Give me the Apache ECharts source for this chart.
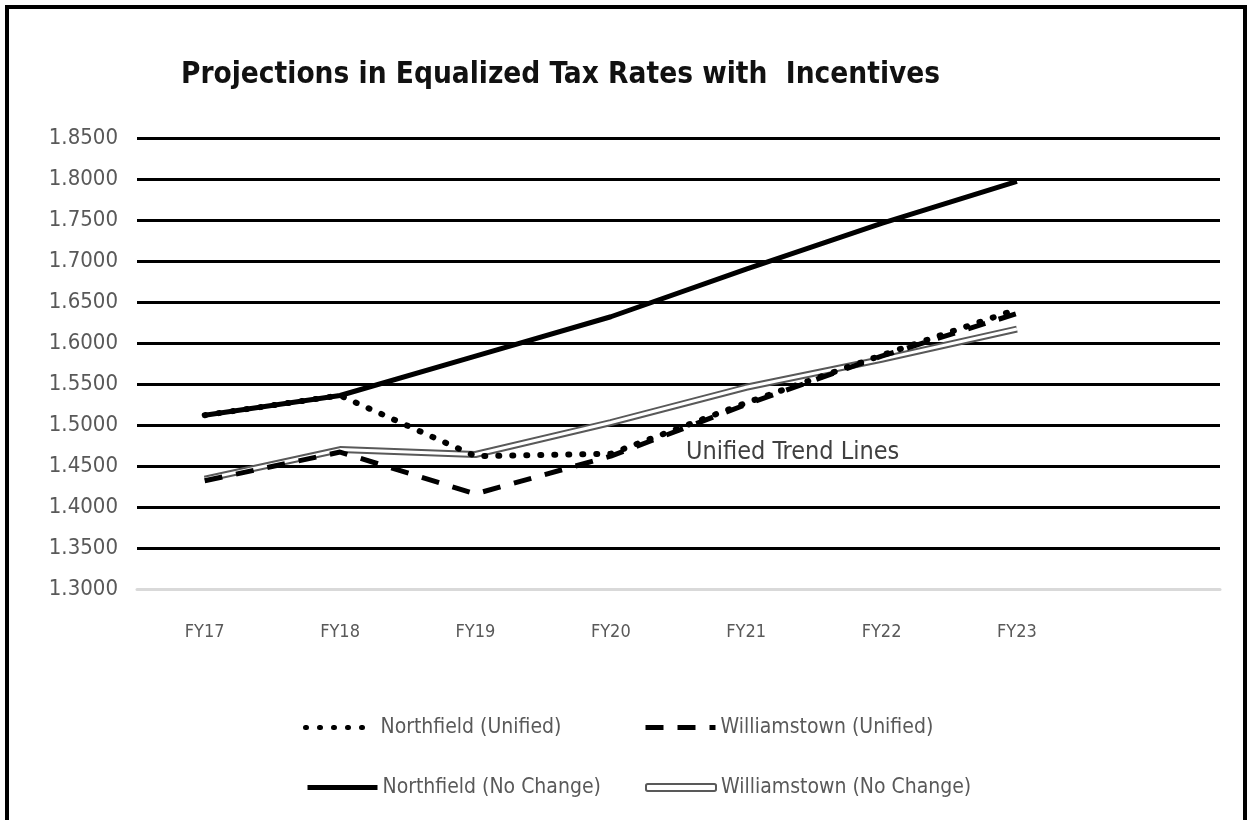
<!DOCTYPE html>
<html>
<head>
<meta charset="utf-8">
<script src="https://cdn.jsdelivr.net/npm/echarts@6/dist/echarts.min.js"></script>
<style>
  html, body { margin: 0; padding: 0; background: #fff; }
  #chart { width: 1251px; height: 820px; }
</style>
</head>
<body>
<div id="chart"></div>
<script>
// Fiscal years on the horizontal axis (last band left empty)
const categories = ['FY17', 'FY18', 'FY19', 'FY20', 'FY21', 'FY22', 'FY23', ''];

// Equalized tax rate projections
const northfieldUnified    = [1.512, 1.536, 1.462, 1.465, 1.527, 1.585, 1.641];
const williamstownUnified  = [1.432, 1.467, 1.416, 1.462, 1.525, 1.584, 1.636];
const northfieldNoChange   = [1.512, 1.536, 1.584, 1.632, 1.690, 1.746, 1.797];
const williamstownNoChange = [1.434, 1.470, 1.464, 1.503, 1.546, 1.580, 1.617];

const seriesNames = [
  'Northfield (Unified)',
  'Williamstown (Unified)',
  'Northfield (No Change)',
  'Williamstown (No Change)'
];

const FONT = '"DejaVu Sans Condensed", "Open Sans", sans-serif';
const GRAY = '#595959';

const chart = echarts.init(document.getElementById('chart'), null, { renderer: 'canvas' });

function legendFor(name, left, top, extra) {
  return Object.assign({
    data: [name],
    left: left,
    top: top,
    itemWidth: 70,
    itemHeight: 14,
    itemGap: 5,
    selectedMode: false,
    itemStyle: { opacity: 0 },
    lineStyle: { width: 5 },
    textStyle: { fontFamily: FONT, fontSize: 21, color: GRAY, padding: [0, 0, 0, 0] }
  }, extra || {});
}

const option = {
  backgroundColor: '#fff',
  animation: false,
  title: {
    text: 'Projections in Equalized Tax Rates with  Incentives',
    left: 176,
    top: 55,
    textStyle: { fontFamily: FONT, fontSize: 29.5, fontWeight: 'bold', color: '#111' }
  },
  graphic: [
    {
      type: 'rect',
      shape: { x: 7, y: 7, width: 1238, height: 840 },
      style: { fill: 'none', stroke: '#000', lineWidth: 4 },
      silent: true
    },
    {
      type: 'text',
      left: 686,
      top: 440,
      style: { text: 'Unified Trend Lines', font: '25px ' + FONT, fill: '#404040' },
      silent: true
    }
  ],
  legend: [
    legendFor(seriesNames[0], 298, 712),
    legendFor(seriesNames[1], 638, 712),
    legendFor(seriesNames[2], 300, 772),
    legendFor(seriesNames[3], 640, 772, {
      data: [{
        name: seriesNames[3],
        icon: 'roundRect',
        itemStyle: { color: '#fff', borderColor: GRAY, borderWidth: 2, opacity: 1 }
      }],
      itemWidth: 70,
      itemHeight: 7
    })
  ],
  grid: { left: 137, right: 31, top: 138, bottom: 231 },
  xAxis: {
    type: 'category',
    data: categories,
    boundaryGap: true,
    axisLine: { show: true, lineStyle: { color: '#d9d9d9', width: 3 } },
    axisTick: { show: false },
    axisLabel: { margin: 34, fontFamily: FONT, fontSize: 18, color: GRAY, interval: 0 },
    splitLine: { show: false }
  },
  yAxis: {
    type: 'value',
    min: 1.3,
    max: 1.85,
    interval: 0.05,
    axisLine: { show: false },
    axisTick: { show: false },
    axisLabel: {
      margin: 19,
      fontFamily: FONT,
      fontSize: 22,
      color: GRAY,
      formatter: v => v.toFixed(4)
    },
    splitLine: { show: true, lineStyle: { color: '#000', width: 3 } }
  },
  series: [
    {
      name: seriesNames[3],
      type: 'line',
      data: williamstownNoChange,
      symbol: 'none',
      z: 2,
      itemStyle: { color: GRAY },
      lineStyle: { color: GRAY, width: 7 }
    },
    {
      name: 'williamstownNoChangeInner',
      type: 'line',
      data: williamstownNoChange,
      symbol: 'none',
      z: 3,
      silent: true,
      itemStyle: { color: '#fff' },
      lineStyle: { color: '#fff', width: 3 }
    },
    {
      name: seriesNames[2],
      type: 'line',
      data: northfieldNoChange,
      symbol: 'none',
      z: 4,
      itemStyle: { color: '#000' },
      lineStyle: { color: '#000', width: 5 }
    },
    {
      name: seriesNames[1],
      type: 'line',
      data: williamstownUnified,
      symbol: 'none',
      z: 5,
      itemStyle: { color: '#000' },
      lineStyle: { color: '#000', width: 5, type: [18, 14] }
    },
    {
      name: seriesNames[0],
      type: 'line',
      data: northfieldUnified,
      symbol: 'none',
      z: 6,
      itemStyle: { color: '#000' },
      lineStyle: { color: '#000', width: 6, type: [1, 13], cap: 'round' }
    }
  ]
};

chart.setOption(option);
</script>
</body>
</html>
